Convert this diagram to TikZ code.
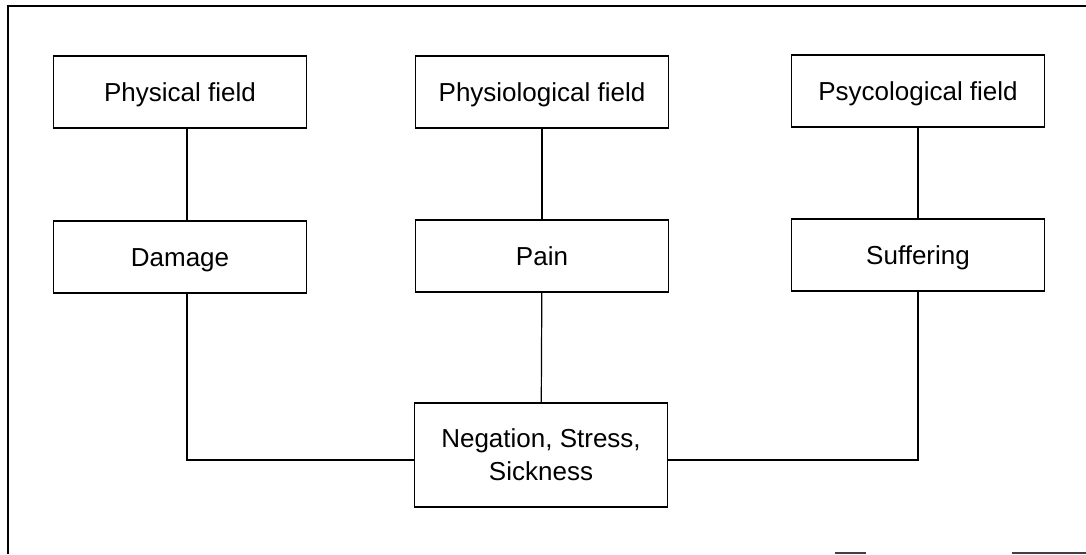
\documentclass[tikz,border=0pt]{standalone}
\usepackage{fontspec}
\setmainfont{Liberation Sans}
\usetikzlibrary{positioning}

\begin{document}
\begin{tikzpicture}[x=0.5pt, y=-0.5pt,
	fieldbox/.style={draw, line width=0.7pt, minimum width=126.5pt, minimum height=36pt, inner sep=0pt, align=center, text height=9.4pt, text depth=0pt, font=\fontsize{13}{16.5}\selectfont},
	link/.style={line width=0.6pt}]
	\useasboundingbox (0,0) rectangle (1086,554);
	\draw [line width=1.4pt] (8,554) -- (8,6) -- (1086,6);
	\draw [line width=1.1pt, black!75] (835,553) -- (866,553) (1012,553) -- (1086,553);

	\node (phys) [fieldbox] at (180,92) {Physical field};
	\node (physio) [fieldbox] at (542,92) {Physiological field};
	\node (psyc) [fieldbox] at (918,91) {Psycological field};

	\node (dam) [fieldbox] at (180,257) {Damage};
	\node (pain) [fieldbox] at (542,256) {Pain};
	\node (suff) [fieldbox] at (918,255) {Suffering};

	\node (neg) [fieldbox, text height={}, text depth={}, minimum height=52pt] at (541,455) {Negation, Stress,\\Sickness};

	\draw [link] ([xshift=3.5pt]phys.south) -- ([xshift=3.5pt]dam.north);
	\draw [link] (physio) -- (pain);
	\draw [link] (psyc) -- (suff);
	\draw [link] (pain) -- (neg);
	\draw [link] ([xshift=3.5pt]dam.south) |- ([yshift=-2.5pt]neg.west);
	\draw [link] (suff.south) |- ([yshift=-2.5pt]neg.east);
\end{tikzpicture}
\end{document}
